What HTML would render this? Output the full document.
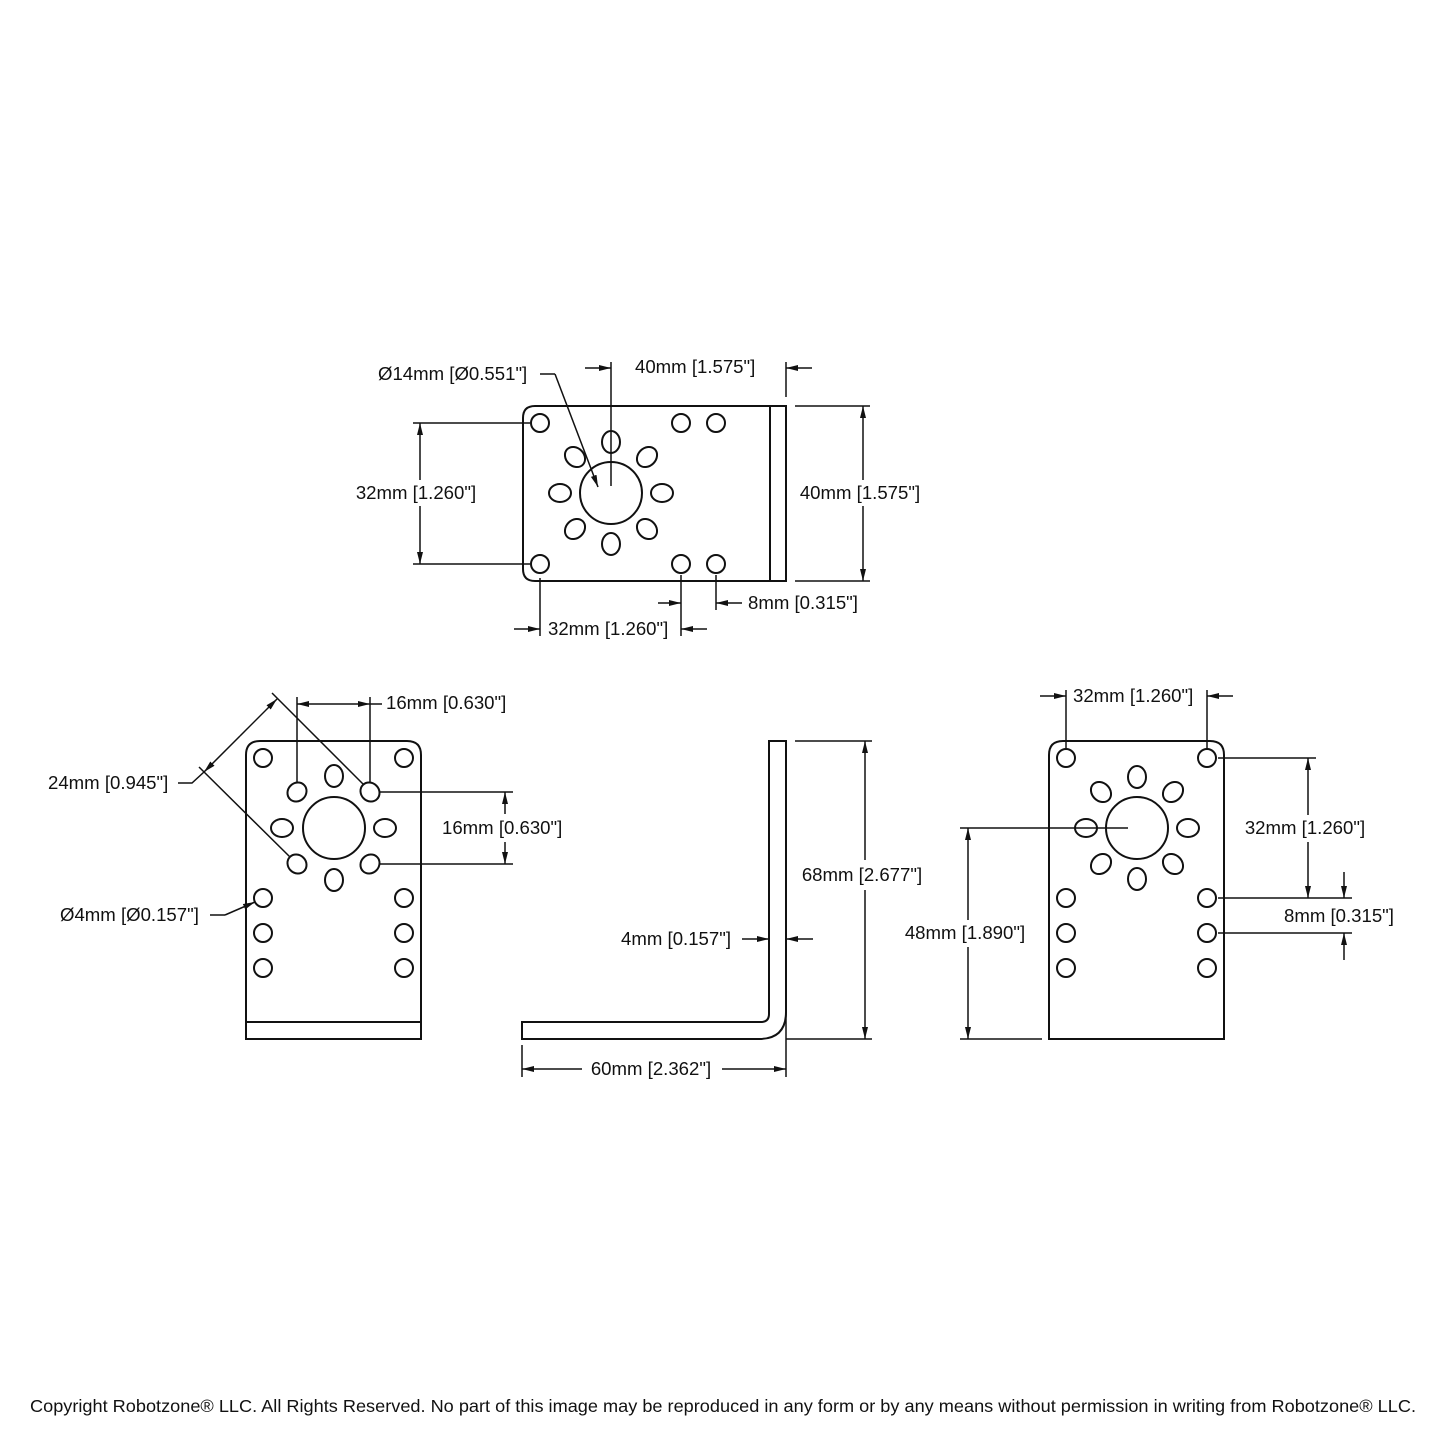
<!DOCTYPE html>
<html><head><meta charset="utf-8"><style>
html,body{margin:0;padding:0;background:#fff}
svg{display:block}
text{font-family:"Liberation Sans",sans-serif;font-size:18.6px;fill:#111}
</style></head><body>
<svg width="1445" height="1445" viewBox="0 0 1445 1445" xmlns="http://www.w3.org/2000/svg">
<defs>
<marker id="a" viewBox="0 0 12 6" refX="12" refY="3" markerWidth="12" markerHeight="6" markerUnits="userSpaceOnUse" orient="auto"><path d="M0,0 L12,3 L0,6 Z" fill="#111"/></marker>
<g id="ring">
<circle cx="0" cy="0" r="31"/>
<ellipse cx="0" cy="-51" rx="9" ry="11"/>
<ellipse cx="0" cy="51" rx="9" ry="11"/>
<ellipse cx="-51" cy="0" rx="11" ry="9"/>
<ellipse cx="51" cy="0" rx="11" ry="9"/>
<ellipse cx="-36" cy="-36" rx="11" ry="9" transform="rotate(45 -36 -36)"/>
<ellipse cx="36" cy="-36" rx="11" ry="9" transform="rotate(-45 36 -36)"/>
<ellipse cx="-36" cy="36" rx="11" ry="9" transform="rotate(-45 -36 36)"/>
<ellipse cx="36" cy="36" rx="11" ry="9" transform="rotate(45 36 36)"/>
</g>
</defs>
<g fill="none" stroke="#111" stroke-width="2">
<path d="M535,406 H770 V581 H535 Q523,581 523,569 V418 Q523,406 535,406 Z"/>
<rect x="770" y="406" width="16" height="175"/>
<circle cx="540" cy="423" r="9"/><circle cx="540" cy="564" r="9"/>
<circle cx="681" cy="423" r="9"/><circle cx="716" cy="423" r="9"/>
<circle cx="681" cy="564" r="9"/><circle cx="716" cy="564" r="9"/>
<use href="#ring" x="611" y="493"/>
</g>
<g fill="none" stroke="#111" stroke-width="1.5">
<line x1="611" y1="362" x2="611" y2="486"/>
<line x1="786" y1="362" x2="786" y2="397"/>
<line x1="585" y1="368" x2="611" y2="368" marker-end="url(#a)"/>
<line x1="812" y1="368" x2="786" y2="368" marker-end="url(#a)"/>
<line x1="540" y1="374" x2="555" y2="374"/>
<line x1="555" y1="374" x2="598" y2="487" marker-end="url(#a)"/>
<line x1="413" y1="423" x2="530" y2="423"/>
<line x1="413" y1="564" x2="530" y2="564"/>
<line x1="420" y1="480" x2="420" y2="423" marker-end="url(#a)"/>
<line x1="420" y1="506" x2="420" y2="564" marker-end="url(#a)"/>
<line x1="795" y1="406" x2="870" y2="406"/>
<line x1="795" y1="581" x2="870" y2="581"/>
<line x1="863" y1="480" x2="863" y2="406" marker-end="url(#a)"/>
<line x1="863" y1="506" x2="863" y2="581" marker-end="url(#a)"/>
<line x1="540" y1="578" x2="540" y2="636"/>
<line x1="681" y1="575" x2="681" y2="636"/>
<line x1="716" y1="575" x2="716" y2="610"/>
<line x1="658" y1="603" x2="681" y2="603" marker-end="url(#a)"/>
<line x1="742" y1="603" x2="716" y2="603" marker-end="url(#a)"/>
<line x1="514" y1="629" x2="540" y2="629" marker-end="url(#a)"/>
<line x1="707" y1="629" x2="681" y2="629" marker-end="url(#a)"/>
</g>
<text x="378" y="380">Ø14mm [Ø0.551"]</text>
<text x="635" y="373">40mm [1.575"]</text>
<text x="416" y="499" text-anchor="middle">32mm [1.260"]</text>
<text x="860" y="499" text-anchor="middle">40mm [1.575"]</text>
<text x="748" y="609">8mm [0.315"]</text>
<text x="548" y="635">32mm [1.260"]</text>

<g fill="none" stroke="#111" stroke-width="2">
<path d="M246,1022 V755 Q246,741 260,741 H407 Q421,741 421,755 V1022 Z"/>
<rect x="246" y="1022" width="175" height="17"/>
<circle cx="263" cy="758" r="9"/><circle cx="404" cy="758" r="9"/>
<circle cx="263" cy="898" r="9"/><circle cx="263" cy="933" r="9"/><circle cx="263" cy="968" r="9"/>
<circle cx="404" cy="898" r="9"/><circle cx="404" cy="933" r="9"/><circle cx="404" cy="968" r="9"/>
<circle cx="334" cy="828" r="31"/>
<ellipse cx="334" cy="776" rx="9" ry="11"/>
<ellipse cx="334" cy="880" rx="9" ry="11"/>
<ellipse cx="282" cy="828" rx="11" ry="9"/>
<ellipse cx="385" cy="828" rx="11" ry="9"/>
<ellipse cx="297" cy="792" rx="10" ry="9" transform="rotate(-45 297 792)"/>
<ellipse cx="370" cy="792" rx="10" ry="9" transform="rotate(45 370 792)"/>
<ellipse cx="297" cy="864" rx="10" ry="9" transform="rotate(45 297 864)"/>
<ellipse cx="370" cy="864" rx="10" ry="9" transform="rotate(-45 370 864)"/>
</g>
<g fill="none" stroke="#111" stroke-width="1.5">
<line x1="297" y1="697" x2="297" y2="782"/>
<line x1="370" y1="697" x2="370" y2="782"/>
<line x1="334" y1="704" x2="297" y2="704" marker-end="url(#a)"/>
<line x1="334" y1="704" x2="370" y2="704" marker-end="url(#a)"/>
<line x1="370" y1="704" x2="382" y2="704"/>
<line x1="380" y1="792" x2="513" y2="792"/>
<line x1="380" y1="864" x2="513" y2="864"/>
<line x1="505" y1="814" x2="505" y2="792" marker-end="url(#a)"/>
<line x1="505" y1="842" x2="505" y2="864" marker-end="url(#a)"/>
<line x1="272" y1="693" x2="363" y2="784"/>
<line x1="199" y1="767" x2="290" y2="857"/>
<line x1="240" y1="736" x2="277" y2="699" marker-end="url(#a)"/>
<line x1="240" y1="736" x2="204" y2="772" marker-end="url(#a)"/>
<polyline points="178,783 192,783 204,772"/>
<line x1="210" y1="915" x2="225" y2="915"/>
<line x1="225" y1="915" x2="255" y2="902" marker-end="url(#a)"/>
</g>
<text x="386" y="709">16mm [0.630"]</text>
<text x="442" y="834">16mm [0.630"]</text>
<text x="48" y="789">24mm [0.945"]</text>
<text x="60" y="921">Ø4mm [Ø0.157"]</text>

<path d="M769,741 H786 V1012 Q786,1039 759,1039 H522 V1022 H761 Q769,1022 769,1014 Z" fill="none" stroke="#111" stroke-width="2"/>
<g fill="none" stroke="#111" stroke-width="1.5">
<line x1="786" y1="1012" x2="786" y2="1077"/>
<line x1="786" y1="1039" x2="872" y2="1039"/>
<line x1="795" y1="741" x2="872" y2="741"/>
<line x1="522" y1="1045" x2="522" y2="1077"/>
<line x1="865" y1="860" x2="865" y2="741" marker-end="url(#a)"/>
<line x1="865" y1="890" x2="865" y2="1039" marker-end="url(#a)"/>
<line x1="742" y1="939" x2="769" y2="939" marker-end="url(#a)"/>
<line x1="813" y1="939" x2="786" y2="939" marker-end="url(#a)"/>
<line x1="582" y1="1069" x2="522" y2="1069" marker-end="url(#a)"/>
<line x1="722" y1="1069" x2="786" y2="1069" marker-end="url(#a)"/>
</g>
<text x="862" y="881" text-anchor="middle">68mm [2.677"]</text>
<text x="731" y="945" text-anchor="end">4mm [0.157"]</text>
<text x="651" y="1075" text-anchor="middle">60mm [2.362"]</text>

<g fill="none" stroke="#111" stroke-width="2">
<path d="M1049,1039 V755 Q1049,741 1063,741 H1210 Q1224,741 1224,755 V1039 Z"/>
<circle cx="1066" cy="758" r="9"/><circle cx="1207" cy="758" r="9"/>
<circle cx="1066" cy="898" r="9"/><circle cx="1066" cy="933" r="9"/><circle cx="1066" cy="968" r="9"/>
<circle cx="1207" cy="898" r="9"/><circle cx="1207" cy="933" r="9"/><circle cx="1207" cy="968" r="9"/>
<use href="#ring" x="1137" y="828"/>
</g>
<g fill="none" stroke="#111" stroke-width="1.5">
<line x1="1066" y1="690" x2="1066" y2="749"/>
<line x1="1207" y1="690" x2="1207" y2="749"/>
<line x1="1040" y1="696" x2="1066" y2="696" marker-end="url(#a)"/>
<line x1="1233" y1="696" x2="1207" y2="696" marker-end="url(#a)"/>
<line x1="1218" y1="758" x2="1316" y2="758"/>
<line x1="1218" y1="898" x2="1352" y2="898"/>
<line x1="1218" y1="933" x2="1352" y2="933"/>
<line x1="1308" y1="815" x2="1308" y2="758" marker-end="url(#a)"/>
<line x1="1308" y1="842" x2="1308" y2="898" marker-end="url(#a)"/>
<line x1="1344" y1="872" x2="1344" y2="898" marker-end="url(#a)"/>
<line x1="1344" y1="960" x2="1344" y2="933" marker-end="url(#a)"/>
<line x1="960" y1="828" x2="1128" y2="828"/>
<line x1="960" y1="1039" x2="1042" y2="1039"/>
<line x1="968" y1="920" x2="968" y2="828" marker-end="url(#a)"/>
<line x1="968" y1="947" x2="968" y2="1039" marker-end="url(#a)"/>
</g>
<text x="1073" y="702">32mm [1.260"]</text>
<text x="1305" y="834" text-anchor="middle">32mm [1.260"]</text>
<text x="1284" y="922">8mm [0.315"]</text>
<text x="965" y="939" text-anchor="middle">48mm [1.890"]</text>

<text x="723" y="1412" text-anchor="middle" style="font-size:17.5px" textLength="1386" lengthAdjust="spacingAndGlyphs">Copyright Robotzone® LLC.  All Rights Reserved. No part of this image may be reproduced in any form or by any means without permission in writing from Robotzone® LLC.</text>
</svg>
</body></html>
